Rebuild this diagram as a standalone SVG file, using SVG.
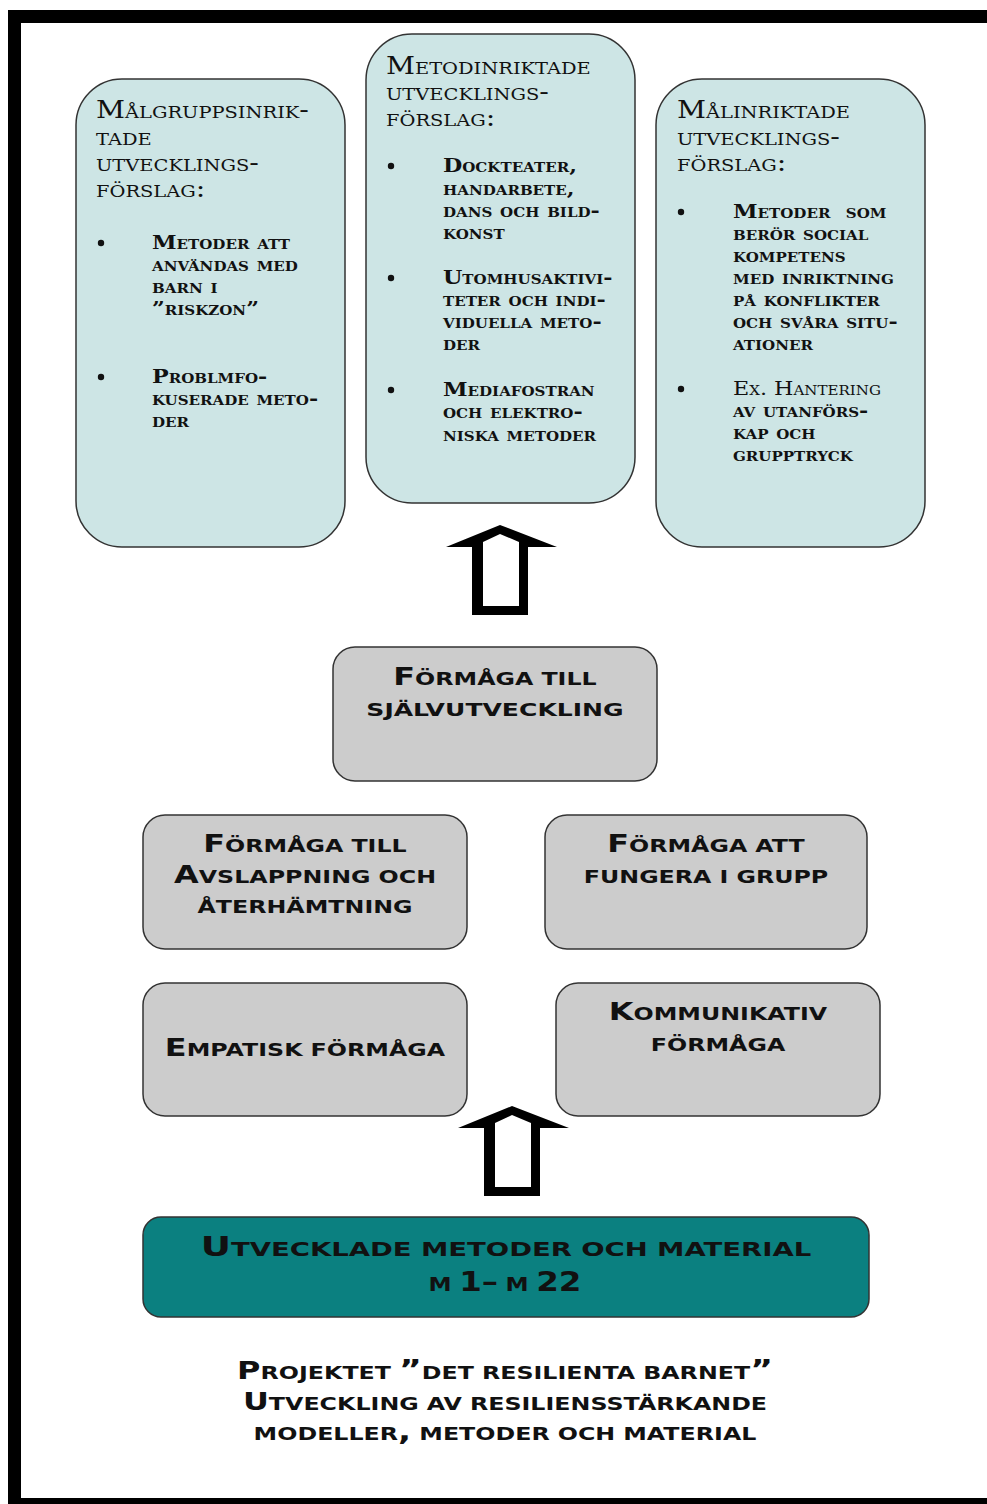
<svg xmlns="http://www.w3.org/2000/svg" width="987" height="1504" viewBox="0 0 987 1504">
<style>
.bg{fill:#ffffff}
.frame{fill:#000000}
.top{fill:#cde5e5;stroke:#333333;stroke-width:1.5}
.grey{fill:#cccccc;stroke:#333333;stroke-width:1.5}
.teal{fill:#0b8080;stroke:#333333;stroke-width:1.5}
.h{font-family:"DejaVu Serif","Liberation Serif",serif;font-size:24px;font-variant:small-caps;fill:#111111}
.b{font-family:"DejaVu Serif","Liberation Serif",serif;font-size:19px;font-weight:bold;font-variant:small-caps;fill:#111111}
.bn{font-weight:normal}
.dot{fill:#111111}
.g{font-family:"DejaVu Sans","Liberation Sans",sans-serif;font-size:26px;font-weight:bold;font-variant:small-caps;fill:#111111;text-anchor:middle;word-spacing:-3px}
.c{font-size:24px}
.t{font-size:28px}
.tc{font-size:27px}
.m{font-size:26px}
.arrow{fill:#000000;fill-rule:evenodd}
</style>
<rect class="bg" x="0" y="0" width="987" height="1504"/>
<g id="frame">
<rect class="frame" x="8" y="10" width="13" height="1494"/>
<rect class="frame" x="8" y="10" width="979" height="13"/>
<rect class="frame" x="8" y="1498" width="979" height="6"/>
</g>

<g id="node-malgrupp">
<rect class="top" x="76" y="79" width="269" height="468" rx="46" ry="46"/>
<text class="h" transform="translate(96,118) scale(1.18,1)">Målgruppsinrik-</text>
<text class="h" transform="translate(96,145) scale(1.18,1)">tade</text>
<text class="h" transform="translate(96,171) scale(1.18,1)">utvecklings-</text>
<text class="h" transform="translate(96,197) scale(1.18,1)">förslag:</text>
<circle class="dot" cx="101" cy="243" r="3.2"/>
<text class="b" transform="translate(152,249) scale(1.17,1)">Metoder att</text>
<text class="b" transform="translate(152,271) scale(1.17,1)">användas med</text>
<text class="b" transform="translate(152,293) scale(1.17,1)">barn i</text>
<text class="b" transform="translate(152,315) scale(1.17,1)">”riskzon”</text>
<circle class="dot" cx="101" cy="377" r="3.2"/>
<text class="b" transform="translate(152,383) scale(1.17,1)">Problmfo-</text>
<text class="b" transform="translate(152,405) scale(1.17,1)">kuserade meto-</text>
<text class="b" transform="translate(152,427) scale(1.17,1)">der</text>
</g>

<g id="node-metod">
<rect class="top" x="366" y="34" width="269" height="469" rx="46" ry="46"/>
<text class="h" transform="translate(386,74) scale(1.18,1)">Metodinriktade</text>
<text class="h" transform="translate(386,100) scale(1.18,1)">utvecklings-</text>
<text class="h" transform="translate(386,126) scale(1.18,1)">förslag:</text>
<circle class="dot" cx="391" cy="166" r="3.2"/>
<text class="b" transform="translate(443,172) scale(1.17,1)">Dockteater,</text>
<text class="b" transform="translate(443,195) scale(1.17,1)">handarbete,</text>
<text class="b" transform="translate(443,217) scale(1.17,1)">dans och bild-</text>
<text class="b" transform="translate(443,239) scale(1.17,1)">konst</text>
<circle class="dot" cx="391" cy="278" r="3.2"/>
<text class="b" transform="translate(443,284) scale(1.17,1)">Utomhusaktivi-</text>
<text class="b" transform="translate(443,306) scale(1.17,1)">teter och indi-</text>
<text class="b" transform="translate(443,328) scale(1.17,1)">viduella meto-</text>
<text class="b" transform="translate(443,350) scale(1.17,1)">der</text>
<circle class="dot" cx="391" cy="390" r="3.2"/>
<text class="b" transform="translate(443,396) scale(1.17,1)">Mediafostran</text>
<text class="b" transform="translate(443,418) scale(1.17,1)">och elektro-</text>
<text class="b" transform="translate(443,441) scale(1.17,1)">niska metoder</text>
</g>

<g id="node-malinriktade">
<rect class="top" x="656" y="79" width="269" height="468" rx="46" ry="46"/>
<text class="h" transform="translate(677,118) scale(1.18,1)">Målinriktade</text>
<text class="h" transform="translate(677,145) scale(1.18,1)">utvecklings-</text>
<text class="h" transform="translate(677,171) scale(1.18,1)">förslag:</text>
<circle class="dot" cx="681" cy="212" r="3.2"/>
<text class="b" transform="translate(733,218) scale(1.17,1)" xml:space="preserve">Metoder  som</text>
<text class="b" transform="translate(733,240) scale(1.17,1)">berör social</text>
<text class="b" transform="translate(733,262) scale(1.17,1)">kompetens</text>
<text class="b" transform="translate(733,284) scale(1.17,1)">med inriktning</text>
<text class="b" transform="translate(733,306) scale(1.17,1)">på konflikter</text>
<text class="b" transform="translate(733,328) scale(1.17,1)">och svåra situ-</text>
<text class="b" transform="translate(733,350) scale(1.17,1)">ationer</text>
<circle class="dot" cx="681" cy="389" r="3.2"/>
<text class="b bn" transform="translate(733,395) scale(1.17,1)">Ex. Hantering</text>
<text class="b" transform="translate(733,417) scale(1.17,1)">av utanförs-</text>
<text class="b" transform="translate(733,439) scale(1.17,1)">kap och</text>
<text class="b" transform="translate(733,461) scale(1.17,1)">grupptryck</text>
</g>

<g id="node-sjalvutveckling">
<rect class="grey" x="333" y="647" width="324" height="134" rx="22" ry="22"/>
<text class="g" transform="translate(495,685) scale(1.33,1)"><tspan class="c">F</tspan>örmåga till</text>
<text class="g" transform="translate(495,716) scale(1.36,1)">självutveckling</text>
</g>
<g id="node-avslappning">
<rect class="grey" x="143" y="815" width="324" height="134" rx="22" ry="22"/>
<text class="g" transform="translate(305,852) scale(1.33,1)"><tspan class="c">F</tspan>örmåga till</text>
<text class="g" transform="translate(305,883) scale(1.33,1)"><tspan class="c">A</tspan>vslappning och</text>
<text class="g" transform="translate(305,913) scale(1.33,1)">återhämtning</text>
</g>
<g id="node-grupp">
<rect class="grey" x="545" y="815" width="322" height="134" rx="22" ry="22"/>
<text class="g" transform="translate(706,852) scale(1.33,1)"><tspan class="c">F</tspan>örmåga att</text>
<text class="g" transform="translate(706,883) scale(1.33,1)">fungera i grupp</text>
</g>
<g id="node-empatisk">
<rect class="grey" x="143" y="983" width="324" height="133" rx="22" ry="22"/>
<text class="g" transform="translate(305,1056) scale(1.33,1)"><tspan class="c">E</tspan>mpatisk förmåga</text>
</g>
<g id="node-kommunikativ">
<rect class="grey" x="556" y="983" width="324" height="133" rx="22" ry="22"/>
<text class="g" transform="translate(718,1020) scale(1.33,1)"><tspan class="c">K</tspan>ommunikativ</text>
<text class="g" transform="translate(718,1051) scale(1.33,1)">förmåga</text>
</g>
<g id="node-metoder">
<rect class="teal" x="143" y="1217" width="726" height="100" rx="18" ry="18"/>
<text class="g t" transform="translate(506,1256) scale(1.38,1)"><tspan class="tc">U</tspan>tvecklade metoder och material</text>
<text class="g m" transform="translate(505,1291) scale(1.25,1)">m 1– m 22</text>
</g>
<g id="node-projekt">
<text class="g" transform="translate(505,1379) scale(1.33,1)"><tspan class="c">P</tspan>rojektet ”det resilienta barnet”</text>
<text class="g" transform="translate(505,1410) scale(1.33,1)"><tspan class="c">U</tspan>tveckling av resiliensstärkande</text>
<text class="g" transform="translate(505,1440) scale(1.33,1)">modeller, metoder och material</text>
</g>

<g id="connectors">
<path class="arrow" d="M500,525 L446,547 L472,547 L472,615 L528,615 L528,547 L557,547 Z M500,534 L483,542 L483,606 L519,606 L519,542 Z"/>
<path class="arrow" transform="translate(12,581)" d="M500,525 L446,547 L472,547 L472,615 L528,615 L528,547 L557,547 Z M500,534 L483,542 L483,606 L519,606 L519,542 Z"/>
</g>
</svg>
